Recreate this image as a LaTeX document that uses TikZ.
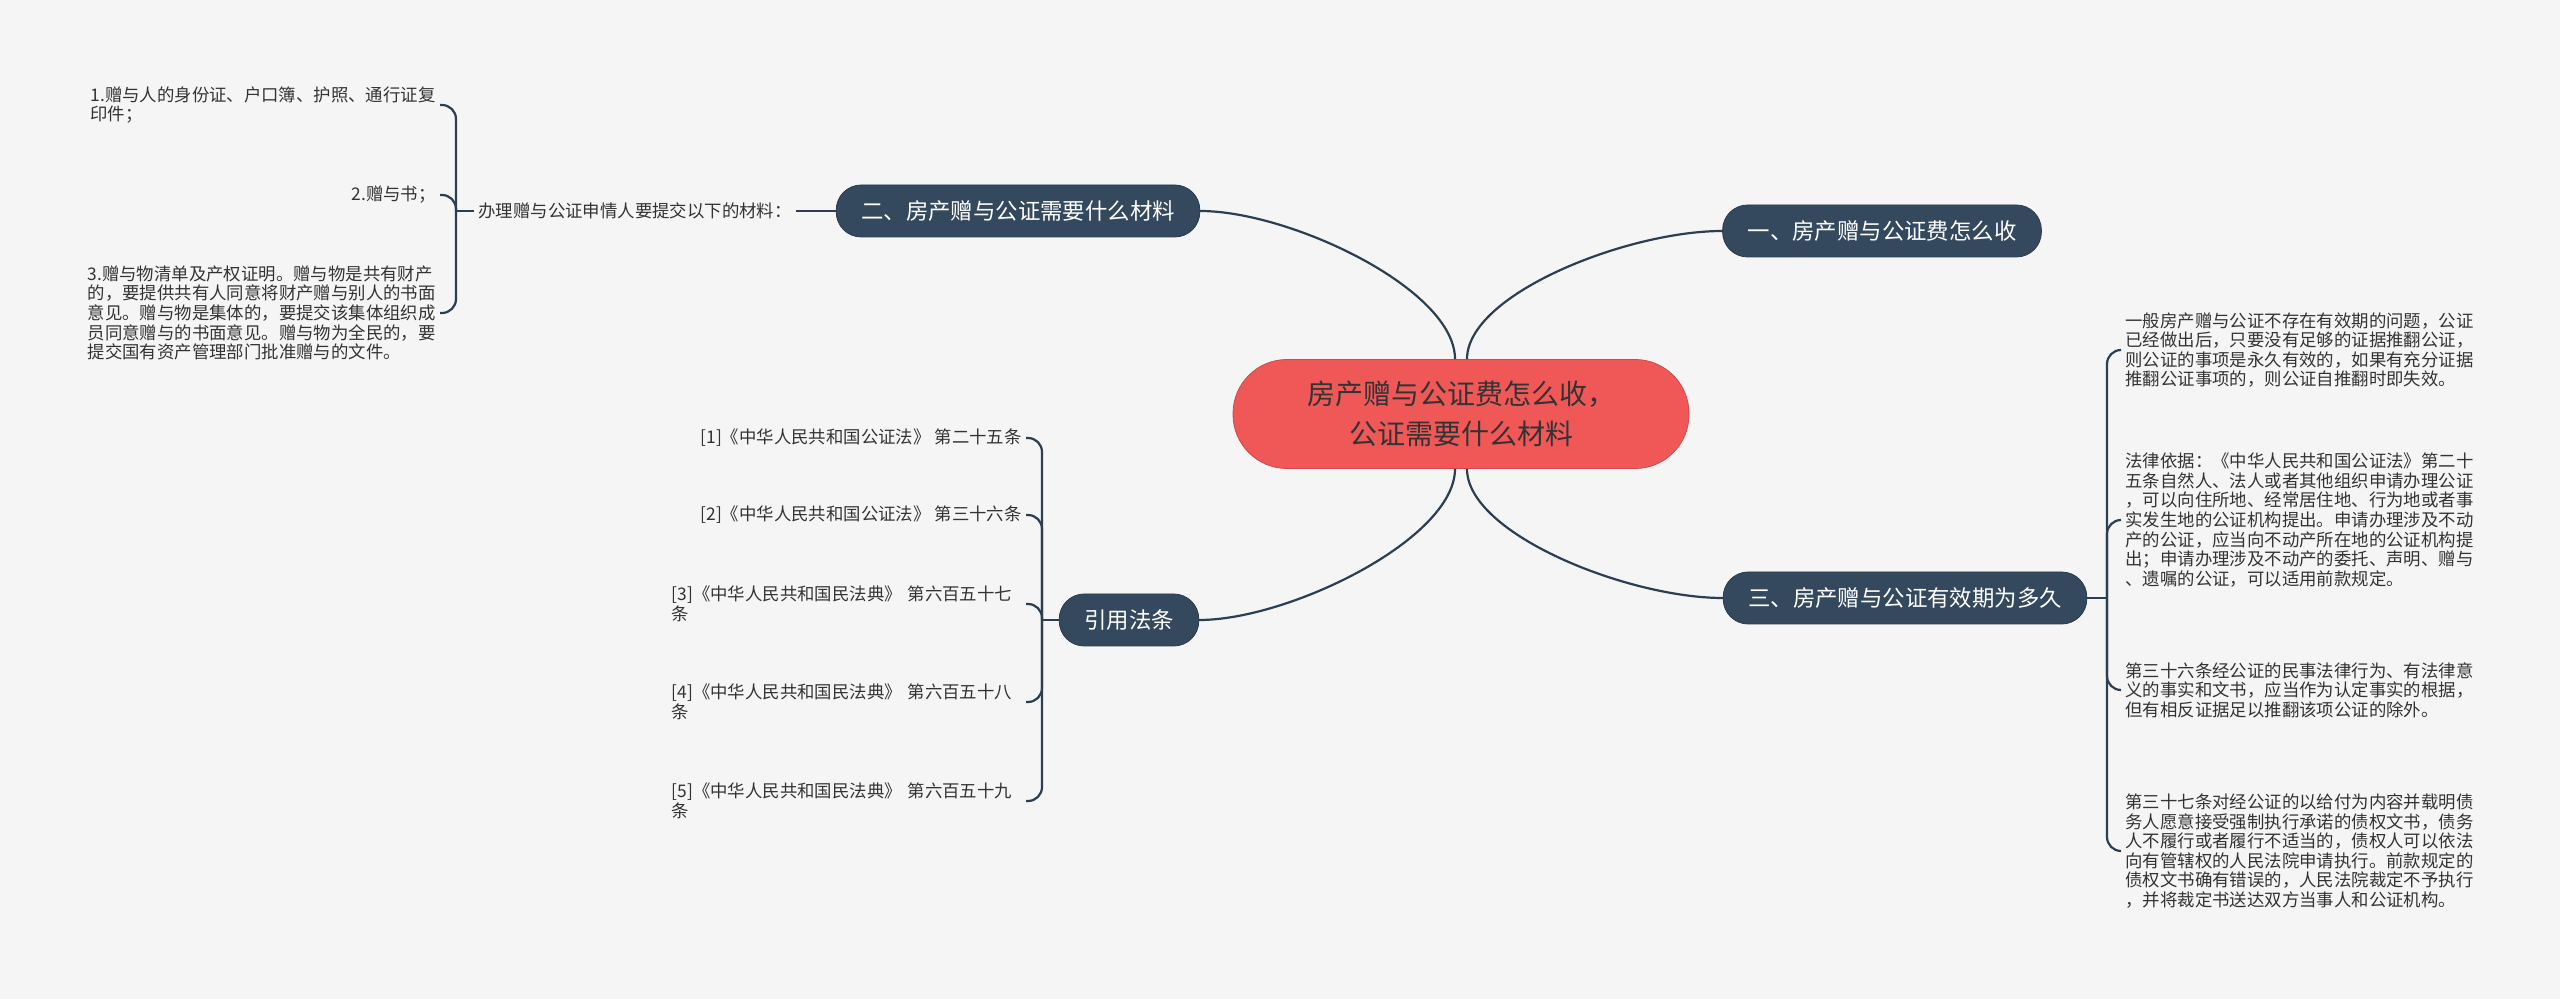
\documentclass[tikz,border=0pt]{standalone}
\usepackage{fontspec}
\newfontfamily\cjk{Noto Sans CJK SC}
\usetikzlibrary{calc}
\definecolor{bgcol}{HTML}{F5F5F5}
\definecolor{linkcol}{HTML}{2C3E50}
\definecolor{topicfill}{HTML}{34495E}
\definecolor{rootfill}{HTML}{F05858}
\definecolor{leaftext}{HTML}{333333}

\begin{document}
\begin{tikzpicture}[x=0.5pt,y=-0.5pt,
          every node/.style={font=\cjk},
          link/.style={draw=linkcol,line width=1.1pt},
          curl/.style={link,rounded corners=7pt},
          root/.style={draw=rootfill!85!black,line width=0.4pt,fill=rootfill,text=black!80,
                       rounded corners=27pt,minimum height=54.5pt,inner xsep=37pt,align=center,
                       font=\cjk\fontsize{14pt}{20pt}\selectfont},
          topic/.style={draw=topicfill!80!black,line width=0.4pt,fill=topicfill,text=white,
                        rounded corners=12.5pt,minimum height=26pt,inner xsep=12.5pt,
                        font=\cjk\fontsize{11.2pt}{13pt}\selectfont},
          leaf/.style={text=leaftext,align=left,inner xsep=2pt,inner ysep=1pt,
                       font=\cjk\fontsize{8.7pt}{9.8pt}\selectfont},
          wrapped/.style={leaf,text width=175pt}]
        % canvas
        \fill[bgcol] (0,0) rectangle (2560,999);
        \useasboundingbox (0,0) rectangle (2560,999);
        % centre and main topics
        \node[root] (root) at (1461,414) {房产赠与公证费怎么收，\\公证需要什么材料};
        \node[topic] (n1) at (1882,231) {一、房产赠与公证费怎么收};
        \node[topic] (n2) at (1018,211) {二、房产赠与公证需要什么材料};
        \node[topic] (n3) at (1905,598) {三、房产赠与公证有效期为多久};
        \node[topic] (n4) at (1129,620) {引用法条};
        \draw[link] ([xshift=3pt]root.north)  .. controls +(0,-65) and +(-95,0) .. (n1.west);
        \draw[link] ([xshift=-3pt]root.north) .. controls +(0,-70) and +(90,0)  .. (n2.east);
        \draw[link] ([xshift=3pt]root.south)  .. controls +(0,65)  and +(-95,0) .. (n3.west);
        \draw[link] ([xshift=-3pt]root.south) .. controls +(0,70)  and +(90,0)  .. (n4.east);
        % materials (left)
        \node[leaf,anchor=west] (p0) at (474,211) {办理赠与公证申情人要提交以下的材料：};
        \node[leaf,anchor=east] (p1) at (440,105) {1.赠与人的身份证、户口簿、护照、通行证复\\印件；};
        \node[leaf,anchor=east] (p2) at (440,195) {2.赠与书；};
        \node[leaf,anchor=east] (p3) at (440,313) {3.赠与物清单及产权证明。赠与物是共有财产\\
            的，要提供共有人同意将财产赠与别人的书面\\意见。赠与物是集体的，要提交该集体组织成\\
            员同意赠与的书面意见。赠与物为全民的，要\\提交国有资产管理部门批准赠与的文件。};
        \coordinate (b2) at (456,211);
        \draw[link] (n2.west) -- (p0.east);
        \draw[link] (p0.west) -- (b2);
        \foreach \i in {1,2,3} \draw[curl] (b2) |- (p\i.east);
        % validity (right)
        \node[leaf,anchor=west] (t1) at (2121,350) {一般房产赠与公证不存在有效期的问题，公证\\
            已经做出后，只要没有足够的证据推翻公证，\\则公证的事项是永久有效的，如果有充分证据\\
            推翻公证事项的，则公证自推翻时即失效。};
        \node[leaf,anchor=west] (t2) at (2121,520) {法律依据：《中华人民共和国公证法》第二十\\
            五条自然人、法人或者其他组织申请办理公证\\，可以向住所地、经常居住地、行为地或者事\\
            实发生地的公证机构提出。申请办理涉及不动\\产的公证，应当向不动产所在地的公证机构提\\
            出；申请办理涉及不动产的委托、声明、赠与\\、遗嘱的公证，可以适用前款规定。};
        \node[leaf,anchor=west] (t3) at (2121,690) {第三十六条经公证的民事法律行为、有法律意\\
            义的事实和文书，应当作为认定事实的根据，\\但有相反证据足以推翻该项公证的除外。};
        \node[leaf,anchor=west] (t4) at (2121,851) {第三十七条对经公证的以给付为内容并载明债\\
            务人愿意接受强制执行承诺的债权文书，债务\\人不履行或者履行不适当的，债权人可以依法\\
            向有管辖权的人民法院申请执行。前款规定的\\债权文书确有错误的，人民法院裁定不予执行\\
            ，并将裁定书送达双方当事人和公证机构。};
        \coordinate (b3) at (2107,598);
        \draw[link] (n3.east) -- (b3);
        \foreach \i in {1,...,4} \draw[curl] (b3) |- (t\i.west);
        % cited articles
        \node[leaf,anchor=east] (r1) at (1026,438) {[1]《中华人民共和国公证法》 第二十五条};
        \node[leaf,anchor=east] (r2) at (1026,515) {[2]《中华人民共和国公证法》 第三十六条};
        \node[wrapped,anchor=east] (r3) at (1026,604) {[3]《中华人民共和国民法典》 第六百五十七\\条};
        \node[wrapped,anchor=east] (r4) at (1026,702) {[4]《中华人民共和国民法典》 第六百五十八\\条};
        \node[wrapped,anchor=east] (r5) at (1026,801) {[5]《中华人民共和国民法典》 第六百五十九\\条};
        \coordinate (b4) at (1042,620);
        \draw[link] (n4.west) -- (b4);
        \foreach \i in {1,...,5} \draw[curl] (b4) |- (r\i.east);
      \end{tikzpicture}
\end{document}
